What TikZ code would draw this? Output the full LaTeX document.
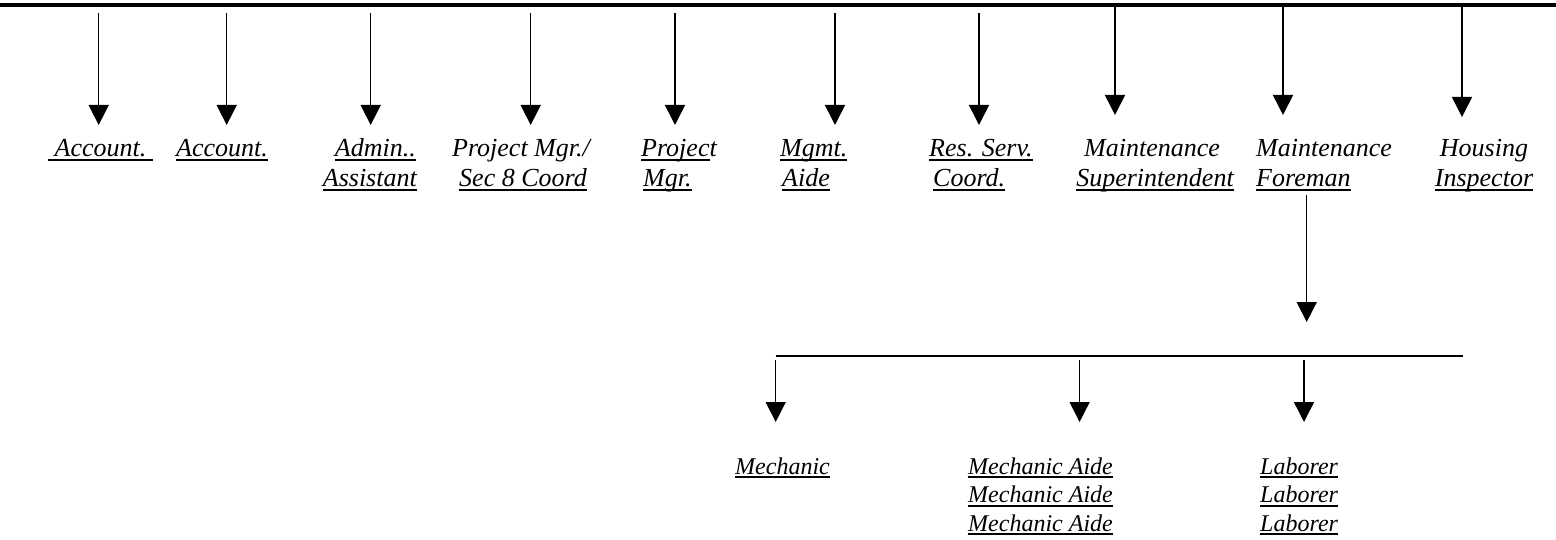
\documentclass[tikz,border=0pt]{standalone}
\usepackage{fontspec}
\setmainfont{Liberation Serif}
\usetikzlibrary{arrows.meta}
\newcommand\ulin[1]{\setbox0\hbox{#1}\rlap{\rule[-4.2pt]{\wd0}{2pt}}\box0}
\begin{document}
\begin{tikzpicture}[x=1pt,y=-1pt,
  arr/.style={line width=1.5pt,-{Triangle[width=20pt,length=20pt]}},
  bus/.style={line width=4pt},
  subbus/.style={line width=2.5pt},
  lab/.style={inner sep=0pt,font=\fontsize{26}{30}\selectfont\itshape},
  sublab/.style={inner sep=0pt,font=\fontsize{24}{28}\selectfont\itshape}]
\useasboundingbox (0,0) rectangle (1556,540);

% top bus
\coordinate (busL) at (0,5);
\coordinate (busR) at (1556,5);
\draw[bus] (busL) -- (busR);

% arrow coordinates (top row)
\foreach \n/\x/\ys/\ye in {1/98.7/13/125, 2/226.7/13/125, 3/370.7/13/125, 4/530.7/13/125,
  5/675/13/125, 6/835/13/125, 7/979/13/125, 8/1115/6/115, 9/1283/6/115, 10/1462/6/117}{
  \coordinate (s\n) at (\x,\ys);
  \coordinate (e\n) at (\x,\ye);
  \draw[arr] (s\n) -- (e\n);
}

% top labels
\node[lab,anchor=base west] (a1) at (48,157) {\ulin{\ Account.\ }};
\node[lab,anchor=base west] (a2) at (176,157) {\ulin{Account.}};
\node[lab,anchor=base east] (a3a) at (416,157) {\ulin{Admin..}};
\node[lab,anchor=base east] (a3b) at (417,187) {\ulin{Assistant}};
\node[lab,anchor=base] (a4a) at (521,157) {Project Mgr./};
\node[lab,anchor=base] (a4b) at (523,187) {\ulin{Sec 8 Coord}};
\node[lab,anchor=base west] (a5a) at (641,157) {\ulin{Projec}t};
\node[lab,anchor=base west] (a5b) at (643,187) {\ulin{Mgr.}};
\node[lab,anchor=base west] (a6a) at (780,157) {\ulin{Mgmt.}};
\node[lab,anchor=base west] (a6b) at (782,187) {\ulin{Aide}};
\node[lab,anchor=base west] (a7a) at (929,157) {\ulin{Res. Serv.}};
\node[lab,anchor=base west] (a7b) at (933,187) {\ulin{Coord.}};
\node[lab,anchor=base] (a8a) at (1152,157) {Maintenance};
\node[lab,anchor=base] (a8b) at (1155,187) {\ulin{Superintendent}};
\node[lab,anchor=base west] (a9a) at (1256,157) {Maintenance};
\node[lab,anchor=base west] (a9b) at (1256,187) {\ulin{Foreman}};
\node[lab,anchor=base] (a10a) at (1484,157) {Housing};
\node[lab,anchor=base] (a10b) at (1484,187) {\ulin{Inspector}};

% foreman down arrow
\coordinate (fs) at (1306.7,195);
\coordinate (fe) at (1306.7,322);
\draw[arr] (fs) -- (fe);

% sub bus
\coordinate (sbL) at (775.7,356);
\coordinate (sbR) at (1463,356);
\draw[subbus] (sbL) -- (sbR);

% bottom arrows
\foreach \n/\x in {1/775.7, 2/1079.6, 3/1304}{
  \coordinate (bs\n) at (\x,360);
  \coordinate (be\n) at (\x,422);
  \draw[arr] (bs\n) -- (be\n);
}

% bottom labels
\node[sublab,anchor=base west] (m1) at (735,474) {\ulin{Mechanic}};
\node[sublab,anchor=base west] (m2a) at (968,474) {\ulin{Mechanic Aide}};
\node[sublab,anchor=base west] (m2b) at (968,502.5) {\ulin{Mechanic Aide}};
\node[sublab,anchor=base west] (m2c) at (968,531) {\ulin{Mechanic Aide}};
\node[sublab,anchor=base west] (m3a) at (1260,474) {\ulin{Laborer}};
\node[sublab,anchor=base west] (m3b) at (1260,502.5) {\ulin{Laborer}};
\node[sublab,anchor=base west] (m3c) at (1260,531) {\ulin{Laborer}};
\end{tikzpicture}
\end{document}
